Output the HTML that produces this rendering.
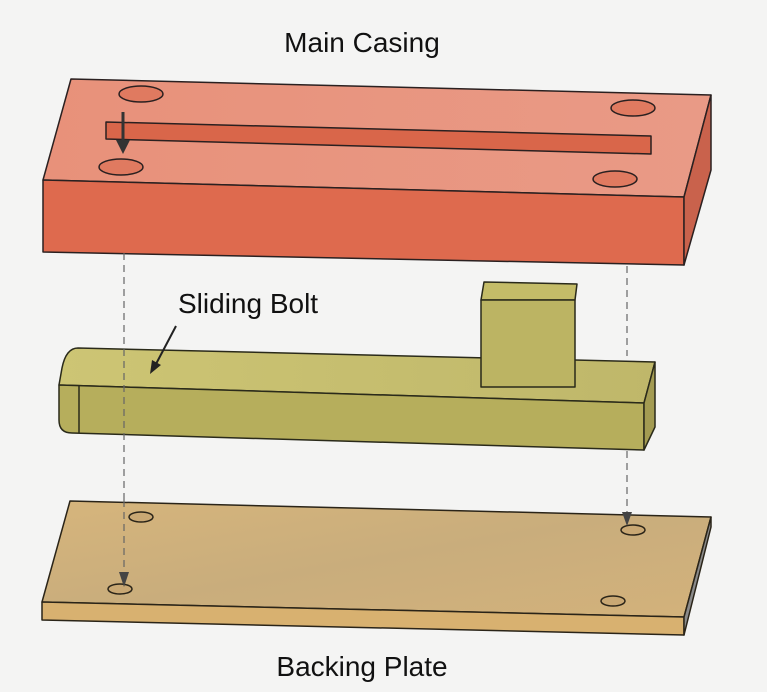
<!DOCTYPE html>
<html><head><style>
html,body{margin:0;padding:0;background:#f4f4f3;}
svg{display:block;}
text{font-family:"Liberation Sans",sans-serif;fill:#111;}
</style></head><body>
<svg width="767" height="692" viewBox="0 0 767 692" xmlns="http://www.w3.org/2000/svg">
<defs>
<linearGradient id="ct" x1="0" y1="0" x2="1" y2="0"><stop offset="0" stop-color="#e8917a"/><stop offset="1" stop-color="#e99a86"/></linearGradient>
<linearGradient id="bt" x1="0" y1="0" x2="1" y2="0"><stop offset="0" stop-color="#cdc574"/><stop offset="1" stop-color="#bfb76a"/></linearGradient>
<linearGradient id="pt" x1="0" y1="0" x2="1" y2="1"><stop offset="0" stop-color="#d6b57c"/><stop offset="0.5" stop-color="#c9ad7c"/><stop offset="1" stop-color="#d3b27b"/></linearGradient>
</defs>
<rect width="767" height="692" fill="#f4f4f3"/>
<text x="362" y="52" font-size="28" text-anchor="middle">Main Casing</text>
<text x="362" y="676" font-size="28" text-anchor="middle">Backing Plate</text>

<!-- Main casing -->
<g stroke="#2a2020" stroke-width="1.5" stroke-linejoin="round">
<polygon points="71,79 711,95 684,197 43,180" fill="url(#ct)"/>
<polygon points="43,180 684,197 684,265 43,252" fill="#de6a4e"/>
<polygon points="711,95 684,197 684,265 711,170" fill="#c9624c"/>
<polygon points="106,122 651,136 651,154 106,139" fill="#d9664a"/>
<ellipse cx="141" cy="94" rx="22" ry="8" fill="#e07a60"/>
<ellipse cx="633" cy="108" rx="22" ry="8" fill="#e07a60"/>
<ellipse cx="121" cy="167" rx="22" ry="8" fill="#e07a60"/>
<ellipse cx="615" cy="179" rx="22" ry="8" fill="#e07a60"/>
</g>
<line x1="123" y1="112" x2="123" y2="142" stroke="#333" stroke-width="3"/>
<polygon points="116,140 130,140 123,154" fill="#333"/>

<!-- Sliding bolt -->
<g stroke="#2a2a1a" stroke-width="1.5" stroke-linejoin="round">
<path d="M78,348 L655,362 L644,403 L59,385 L62,368 Q66,348 78,348 Z" fill="url(#bt)"/>
<path d="M59,385 L644,403 L644,450 L72,433 Q59,433 59,420 Z" fill="#b6ae5c"/>
<line x1="79" y1="386" x2="79" y2="433"/>
<polygon points="655,362 644,403 644,450 655,427" fill="#a39b52"/>
<polygon points="484,282 577,284 575,300 481,300" fill="#c4bc68"/>
<rect x="481" y="300" width="94" height="87" fill="#bcb463"/>
</g>
<!-- dashed guides (over bolt) -->
<line x1="124" y1="253" x2="124" y2="580" stroke="#666" stroke-width="1.2" stroke-dasharray="7,5"/>
<line x1="627" y1="266" x2="627" y2="356" stroke="#666" stroke-width="1.2" stroke-dasharray="7,5"/>
<line x1="627" y1="451" x2="627" y2="518" stroke="#666" stroke-width="1.2" stroke-dasharray="7,5"/>

<text x="178" y="313" font-size="28">Sliding Bolt</text>
<line x1="176" y1="326" x2="156" y2="364" stroke="#222" stroke-width="2"/>
<polygon points="150,374 152,360 161,365" fill="#222"/>

<!-- Backing plate -->
<g stroke="#2a2418" stroke-width="1.5" stroke-linejoin="round">
<polygon points="70,501 711,517 684,617 42,602" fill="url(#pt)"/>
<polygon points="42,602 684,617 684,635 42,620" fill="#d8b170"/>
<polygon points="711,517 684,617 684,635 711,527" fill="#8a8a8a"/>
<ellipse cx="141" cy="517" rx="12" ry="5" fill="#c9a874"/>
<ellipse cx="633" cy="530" rx="12" ry="5" fill="#c9a874"/>
<ellipse cx="120" cy="589" rx="12" ry="5" fill="#c9a874"/>
<ellipse cx="613" cy="601" rx="12" ry="5" fill="#c9a874"/>
</g>
<line x1="124" y1="500" x2="124" y2="575" stroke="#666" stroke-width="1.2" stroke-dasharray="7,5"/>
<polygon points="119,572 129,572 124,587" fill="#444"/>
<polygon points="622,512 632,512 627,526" fill="#444"/>
</svg>
</body></html>
